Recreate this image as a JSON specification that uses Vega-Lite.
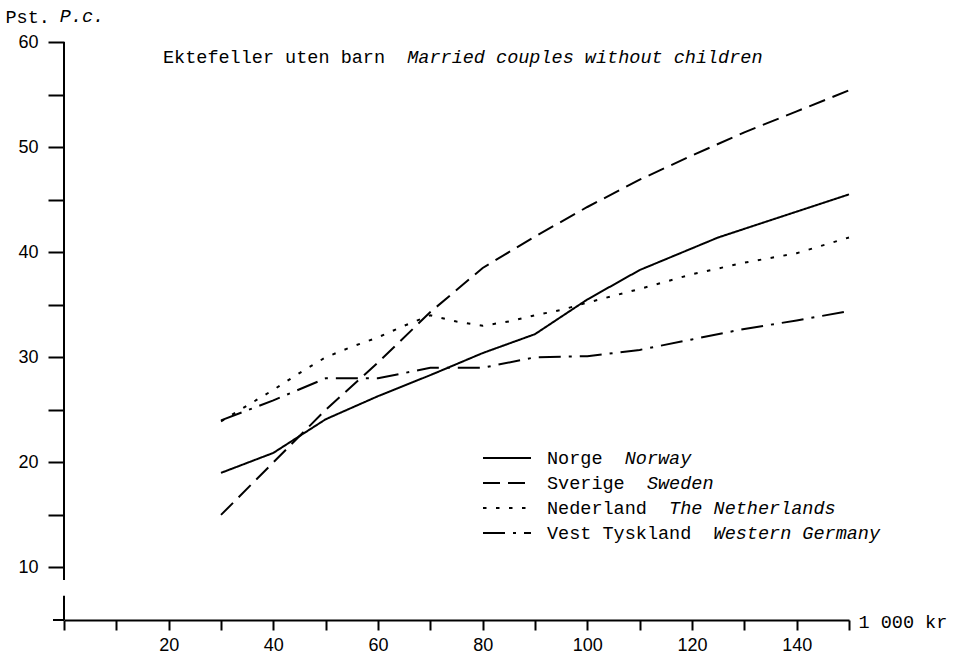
{
  "$schema": "https://vega.github.io/schema/vega-lite/v6.json",
  "width": 785,
  "height": 578,
  "autosize": "none",
  "padding": {"left": 64, "top": 42, "right": 104, "bottom": 33},
  "background": "white",
  "title": {
    "text": "Ektefeller uten barn",
    "subtitle": "\u200b\u00a0\u00a0\u00a0\u00a0\u00a0\u00a0\u00a0\u00a0\u00a0\u00a0\u00a0\u00a0\u00a0\u00a0\u00a0\u00a0\u00a0\u00a0\u00a0\u00a0\u00a0\u00a0Married couples without children",
    "anchor": "start",
    "frame": "group",
    "orient": "top",
    "baseline": "top",
    "dx": 99,
    "offset": -59,
    "font": "Liberation Mono",
    "fontSize": 18.5,
    "fontWeight": "normal",
    "color": "black",
    "subtitleFont": "Liberation Mono",
    "subtitleFontSize": 18.5,
    "subtitleFontStyle": "italic",
    "subtitleColor": "black",
    "subtitlePadding": -18.5
  },
  "data": {
    "values": [
      {"x": 30, "y": 19.0, "no": "Norge", "en": "Norway"},
      {"x": 40, "y": 20.9, "no": "Norge", "en": "Norway"},
      {"x": 50, "y": 24.1, "no": "Norge", "en": "Norway"},
      {"x": 60, "y": 26.3, "no": "Norge", "en": "Norway"},
      {"x": 70, "y": 28.3, "no": "Norge", "en": "Norway"},
      {"x": 80, "y": 30.4, "no": "Norge", "en": "Norway"},
      {"x": 90, "y": 32.2, "no": "Norge", "en": "Norway"},
      {"x": 100, "y": 35.5, "no": "Norge", "en": "Norway"},
      {"x": 110, "y": 38.3, "no": "Norge", "en": "Norway"},
      {"x": 125, "y": 41.4, "no": "Norge", "en": "Norway"},
      {"x": 150, "y": 45.5, "no": "Norge", "en": "Norway"},
      {"x": 30, "y": 15.0, "no": "Sverige", "en": "Sweden"},
      {"x": 40, "y": 20.0, "no": "Sverige", "en": "Sweden"},
      {"x": 50, "y": 25.0, "no": "Sverige", "en": "Sweden"},
      {"x": 60, "y": 29.5, "no": "Sverige", "en": "Sweden"},
      {"x": 70, "y": 34.3, "no": "Sverige", "en": "Sweden"},
      {"x": 80, "y": 38.5, "no": "Sverige", "en": "Sweden"},
      {"x": 90, "y": 41.5, "no": "Sverige", "en": "Sweden"},
      {"x": 100, "y": 44.3, "no": "Sverige", "en": "Sweden"},
      {"x": 110, "y": 46.9, "no": "Sverige", "en": "Sweden"},
      {"x": 120, "y": 49.2, "no": "Sverige", "en": "Sweden"},
      {"x": 130, "y": 51.4, "no": "Sverige", "en": "Sweden"},
      {"x": 140, "y": 53.4, "no": "Sverige", "en": "Sweden"},
      {"x": 150, "y": 55.4, "no": "Sverige", "en": "Sweden"},
      {"x": 30, "y": 23.9, "no": "Nederland", "en": "The Netherlands"},
      {"x": 35, "y": 25.4, "no": "Nederland", "en": "The Netherlands"},
      {"x": 40, "y": 26.9, "no": "Nederland", "en": "The Netherlands"},
      {"x": 45, "y": 28.5, "no": "Nederland", "en": "The Netherlands"},
      {"x": 50, "y": 30.0, "no": "Nederland", "en": "The Netherlands"},
      {"x": 55, "y": 31.0, "no": "Nederland", "en": "The Netherlands"},
      {"x": 60, "y": 31.9, "no": "Nederland", "en": "The Netherlands"},
      {"x": 65, "y": 33.0, "no": "Nederland", "en": "The Netherlands"},
      {"x": 70, "y": 34.0, "no": "Nederland", "en": "The Netherlands"},
      {"x": 75, "y": 33.4, "no": "Nederland", "en": "The Netherlands"},
      {"x": 80, "y": 33.0, "no": "Nederland", "en": "The Netherlands"},
      {"x": 85, "y": 33.4, "no": "Nederland", "en": "The Netherlands"},
      {"x": 90, "y": 34.0, "no": "Nederland", "en": "The Netherlands"},
      {"x": 95, "y": 34.5, "no": "Nederland", "en": "The Netherlands"},
      {"x": 100, "y": 35.2, "no": "Nederland", "en": "The Netherlands"},
      {"x": 110, "y": 36.5, "no": "Nederland", "en": "The Netherlands"},
      {"x": 120, "y": 37.9, "no": "Nederland", "en": "The Netherlands"},
      {"x": 130, "y": 39.0, "no": "Nederland", "en": "The Netherlands"},
      {"x": 140, "y": 39.9, "no": "Nederland", "en": "The Netherlands"},
      {"x": 150, "y": 41.4, "no": "Nederland", "en": "The Netherlands"},
      {"x": 30, "y": 24.0, "no": "Vest Tyskland", "en": "Western Germany"},
      {"x": 40, "y": 25.9, "no": "Vest Tyskland", "en": "Western Germany"},
      {"x": 50, "y": 28.0, "no": "Vest Tyskland", "en": "Western Germany"},
      {"x": 60, "y": 28.0, "no": "Vest Tyskland", "en": "Western Germany"},
      {"x": 70, "y": 29.0, "no": "Vest Tyskland", "en": "Western Germany"},
      {"x": 80, "y": 29.0, "no": "Vest Tyskland", "en": "Western Germany"},
      {"x": 90, "y": 30.0, "no": "Vest Tyskland", "en": "Western Germany"},
      {"x": 100, "y": 30.1, "no": "Vest Tyskland", "en": "Western Germany"},
      {"x": 110, "y": 30.7, "no": "Vest Tyskland", "en": "Western Germany"},
      {"x": 120, "y": 31.7, "no": "Vest Tyskland", "en": "Western Germany"},
      {"x": 130, "y": 32.7, "no": "Vest Tyskland", "en": "Western Germany"},
      {"x": 140, "y": 33.5, "no": "Vest Tyskland", "en": "Western Germany"},
      {"x": 150, "y": 34.4, "no": "Vest Tyskland", "en": "Western Germany"}
    ]
  },
  "layer": [
    {
      "mark": {"type": "line", "color": "black", "strokeWidth": 2},
      "encoding": {
        "x": {
          "field": "x", "type": "quantitative",
          "scale": {"domain": [0, 150], "nice": false, "zero": false},
          "axis": {
            "title": "1 000 kr",
            "titleX": 794, "titleY": 1,
            "titleAlign": "left", "titleBaseline": "middle",
            "titleFont": "Liberation Mono", "titleFontSize": 18.5, "titleFontWeight": "normal", "titleColor": "black",
            "values": [0, 10, 20, 30, 40, 50, 60, 70, 80, 90, 100, 110, 120, 130, 140, 150],
            "labelExpr": "(datum.value % 20 == 0 && datum.value > 0 && datum.value < 150) ? datum.label : ''",
            "labelFont": "Liberation Sans", "labelFontSize": 18, "labelColor": "black",
            "labelPadding": 6, "tickSize": 10, "tickWidth": 2, "tickColor": "black",
            "domainColor": "black", "domainWidth": 2, "grid": false
          }
        },
        "y": {
          "field": "y", "type": "quantitative",
          "scale": {"domain": [5, 60], "nice": false, "zero": false},
          "axis": {
            "title": "Pst.",
            "titleAngle": 0, "titleX": -59, "titleY": -20,
            "titleAlign": "left", "titleBaseline": "alphabetic",
            "titleFont": "Liberation Mono", "titleFontSize": 18.5, "titleFontWeight": "normal", "titleColor": "black",
            "values": [10, 15, 20, 25, 30, 35, 40, 45, 50, 55, 60],
            "labelExpr": "datum.value % 10 == 0 ? datum.label : ''",
            "labelFont": "Liberation Sans", "labelFontSize": 18, "labelColor": "black",
            "labelPadding": 10, "tickSize": 16, "tickWidth": 2, "tickColor": "black",
            "domain": false, "grid": false
          }
        },
        "strokeDash": {
          "field": "no", "type": "nominal",
          "scale": {
            "domain": ["Norge", "Sverige", "Nederland", "Vest Tyskland"],
            "range": [[1, 0], [17, 8], [3.5, 9.5], [22, 8, 3, 8]]
          },
          "legend": {
            "title": null, "orient": "none", "legendX": 430, "legendY": 403,
            "symbolType": "M-2,0H2", "symbolSize": 576, "symbolStrokeWidth": 2, "symbolStrokeColor": "black",
            "labelFont": "Liberation Mono", "labelFontSize": 18.5, "labelColor": "black",
            "labelOffset": 27, "rowPadding": 2, "padding": 0, "labelLimit": 400
          }
        }
      }
    },
    {
      "mark": {"type": "point", "opacity": 0},
      "encoding": {
        "x": {"field": "x", "type": "quantitative"},
        "y": {"field": "y", "type": "quantitative"},
        "shape": {
          "field": "en", "type": "nominal",
          "scale": {
            "domain": ["Norway", "Sweden", "The Netherlands", "Western Germany"],
            "range": ["M-2,0H2", "M-2,0H2", "M-2,0H2", "M-2,0H2"]
          },
          "legend": {
            "title": null, "orient": "none", "legendX": 430, "legendY": 403,
            "symbolType": "M-2,0H2", "symbolSize": 576, "symbolStrokeWidth": 2, "symbolOpacity": 0, "symbolStrokeColor": "white",
            "labelFont": "Liberation Mono", "labelFontSize": 18.5, "labelFontStyle": "italic", "labelColor": "black",
            "labelOffset": 27, "rowPadding": 2, "padding": 0, "labelLimit": 500,
            "labelExpr": "datum.label == 'Norway' ? '\u200b\u00a0\u00a0\u00a0\u00a0\u00a0\u00a0\u00a0Norway' : datum.label == 'Sweden' ? '\u200b\u00a0\u00a0\u00a0\u00a0\u00a0\u00a0\u00a0\u00a0\u00a0Sweden' : datum.label == 'The Netherlands' ? '\u200b\u00a0\u00a0\u00a0\u00a0\u00a0\u00a0\u00a0\u00a0\u00a0\u00a0\u00a0The Netherlands' : '\u200b\u00a0\u00a0\u00a0\u00a0\u00a0\u00a0\u00a0\u00a0\u00a0\u00a0\u00a0\u00a0\u00a0\u00a0\u00a0Western Germany'"
          }
        }
      }
    },
    {
      "data": {"values": [{"a": 1}]},
      "mark": {"type": "rule", "color": "black", "strokeWidth": 2},
      "encoding": {
        "x": {"datum": 0, "type": "quantitative"},
        "y": {"datum": 8.8, "type": "quantitative"},
        "y2": {"datum": 60}
      }
    },
    {
      "data": {"values": [{"a": 1}]},
      "mark": {"type": "rule", "color": "black", "strokeWidth": 2},
      "encoding": {
        "x": {"datum": 0, "type": "quantitative"},
        "y": {"datum": 5, "type": "quantitative"},
        "y2": {"datum": 7.3}
      }
    },
    {
      "data": {"values": [{"a": 1}]},
      "mark": {"type": "rule", "color": "black", "strokeWidth": 2},
      "encoding": {
        "x": {"datum": -2.1, "type": "quantitative"},
        "x2": {"datum": 0},
        "y": {"datum": 5, "type": "quantitative"}
      }
    },
    {
      "data": {"values": [{"a": 1}]},
      "mark": {"type": "text", "text": "P.c.", "font": "Liberation Mono", "fontSize": 18.5, "fontStyle": "italic", "align": "left", "baseline": "alphabetic", "color": "black"},
      "encoding": {
        "x": {"datum": -0.8, "type": "quantitative"},
        "y": {"datum": 61.9, "type": "quantitative"}
      }
    }
  ],
  "config": {
    "view": {"stroke": null},
    "axis": {"grid": false}
  }
}
